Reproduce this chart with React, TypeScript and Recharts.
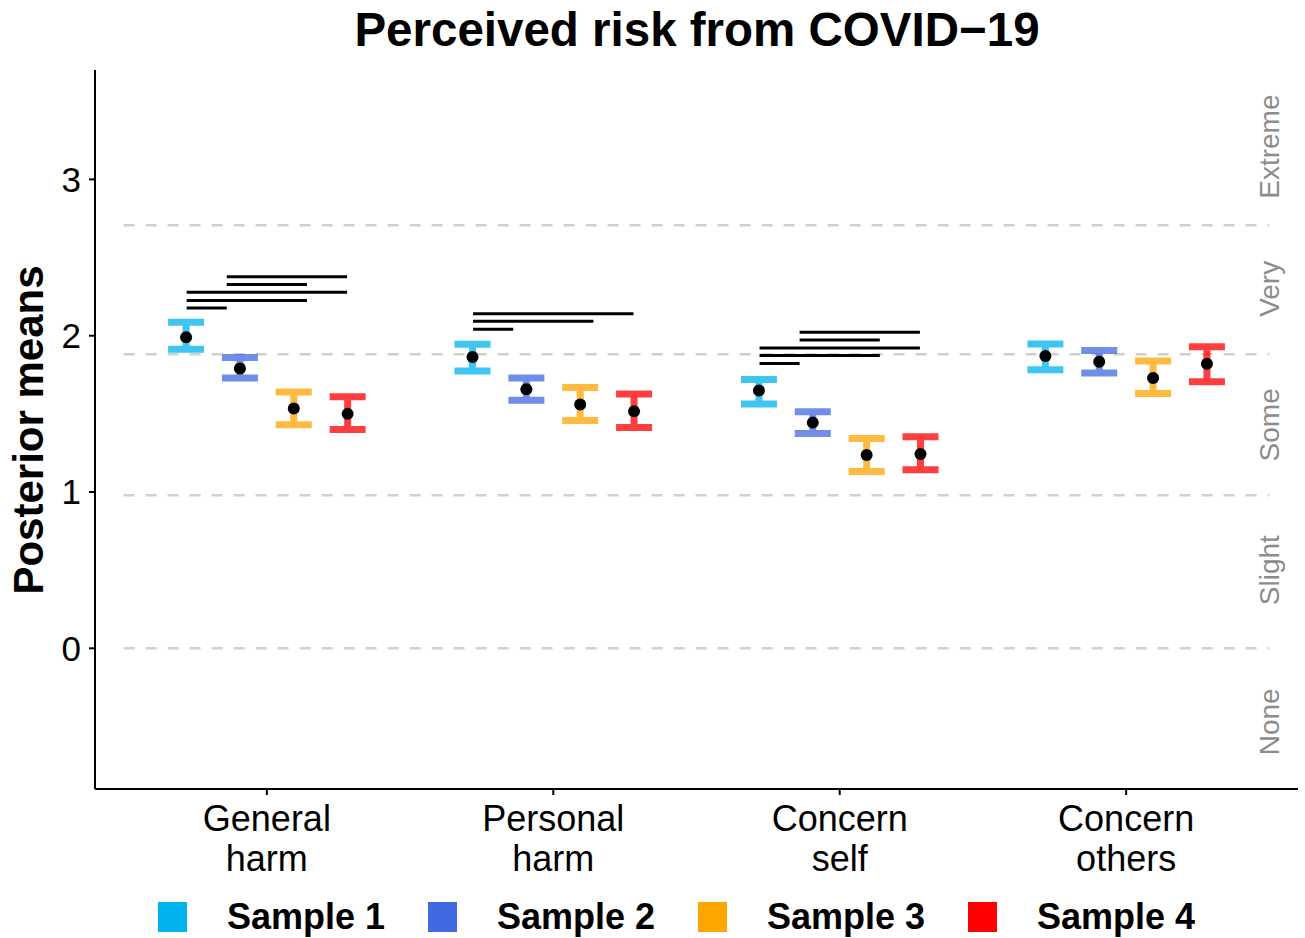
import React from 'react';
import {
  ComposedChart,
  Scatter,
  XAxis,
  YAxis,
  ErrorBar,
  ReferenceLine,
  Legend,
  Customized,
} from 'recharts';

const W = 1305;
const H = 938;
const FONT = '"Liberation Sans", Arial, Helvetica, sans-serif';

// ---- data ----
const categories = ['General harm', 'Personal harm', 'Concern self', 'Concern others'];
const categoryLines = [
  ['General', 'harm'],
  ['Personal', 'harm'],
  ['Concern', 'self'],
  ['Concern', 'others'],
];
const sampleNames = ['Sample 1', 'Sample 2', 'Sample 3', 'Sample 4'];
const sampleColors = ['#00B2EE', '#4169E1', '#FFA500', '#FF0000'];
const dodge = [-0.282, -0.094, 0.094, 0.282];

const s1Mean = [1.99, 1.864, 1.65, 1.87];
const s1Lo = [1.913, 1.774, 1.563, 1.783];
const s1Hi = [2.086, 1.945, 1.72, 1.947];
const s2Mean = [1.79, 1.657, 1.444, 1.834];
const s2Lo = [1.73, 1.587, 1.374, 1.761];
const s2Hi = [1.86, 1.73, 1.514, 1.905];
const s3Mean = [1.535, 1.56, 1.237, 1.729];
const s3Lo = [1.43, 1.457, 1.132, 1.63];
const s3Hi = [1.64, 1.668, 1.342, 1.838];
const s4Mean = [1.5, 1.516, 1.243, 1.821];
const s4Lo = [1.4, 1.412, 1.143, 1.706];
const s4Hi = [1.61, 1.627, 1.354, 1.93];

// significance segments: category index, start offset, end offset, height
const compCat = [1, 1, 1, 1, 1, 2, 2, 2, 3, 3, 3, 3, 3];
const compFrom = [-0.14, -0.14, -0.28, -0.28, -0.28, -0.28, -0.28, -0.28, -0.14, -0.14, -0.28, -0.28, -0.28];
const compTo = [0.28, 0.14, 0.28, 0.14, -0.14, 0.28, 0.14, -0.14, 0.28, 0.14, 0.28, 0.14, -0.14];
const compY = [2.378, 2.327, 2.278, 2.226, 2.177, 2.141, 2.092, 2.041, 2.022, 1.972, 1.921, 1.873, 1.823];

// response-scale thresholds and band labels
const thresholds = [0, 0.979, 1.881, 2.706];
const bandNames = ['None', 'Slight', 'Some', 'Very', 'Extreme'];
const bandCenters = [-0.47, 0.5, 1.43, 2.3, 3.21];

const yTicks = [0, 1, 2, 3];
const xTicks = [1, 2, 3, 4];

const buildSeries = (m: number[], lo: number[], hi: number[], k: number) =>
  m.map((v, i) => ({ x: i + 1 + dodge[k], y: v, err: [v - lo[i], hi[i] - v], cat: categories[i] }));

const series = [
  buildSeries(s1Mean, s1Lo, s1Hi, 0),
  buildSeries(s2Mean, s2Lo, s2Hi, 1),
  buildSeries(s3Mean, s3Lo, s3Hi, 2),
  buildSeries(s4Mean, s4Lo, s4Hi, 3),
];

const bandData = bandNames.map((n, i) => ({ x: 4.5, y: bandCenters[i], name: n }));

const Dot = (props: any) => <circle cx={props.cx} cy={props.cy} r={6} fill="#000" />;

const BandLabel = (props: any) => {
  const { cx, cy, payload } = props;
  return (
    <text
      x={cx}
      y={cy}
      transform={`rotate(-90 ${cx} ${cy})`}
      textAnchor="middle"
      dominantBaseline="central"
      fontFamily={FONT}
      fontSize={28}
      fill="#8C8C8C"
    >
      {payload.name}
    </text>
  );
};

const XTick = (props: any) => {
  const { x, y, payload } = props;
  const lines = categoryLines[xTicks.indexOf(payload.value)] || [];
  return (
    <g>
      {lines.map((l, i) => (
        <text key={i} x={x} y={y + 34 + i * 40} textAnchor="middle" fontFamily={FONT} fontSize={36} fill="#000">
          {l}
        </text>
      ))}
    </g>
  );
};

const YLabel = () => (
  <text
    x={28}
    y={430}
    transform="rotate(-90 28 430)"
    textAnchor="middle"
    dominantBaseline="central"
    fontFamily={FONT}
    fontWeight="bold"
    fontSize={42}
    fill="#000"
  >
    Posterior means
  </text>
);

const Title = () => (
  <text x={697} y={46} textAnchor="middle" fontFamily={FONT} fontWeight="bold" fontSize={47.5} fill="#000">
    Perceived risk from COVID−19
  </text>
);

const LegendContent = () => (
  <div style={{ position: 'relative', width: W, height: 50, fontFamily: FONT }}>
    {sampleNames.map((n, i) => (
      <div
        key={n}
        style={{ position: 'absolute', left: 158 + i * 270, top: 20, display: 'flex', alignItems: 'center', height: 36 }}
      >
        <div style={{ width: 29, height: 30, background: sampleColors[i] }} />
        <span style={{ marginLeft: 40, fontSize: 36, fontWeight: 'bold', color: '#000' }}>{n}</span>
      </div>
    ))}
  </div>
);

export default function App() {
  return (
    <div style={{ position: 'absolute', left: 0, top: 0, width: W, height: H, background: '#fff' }}>
      <ComposedChart width={W} height={H} margin={{ top: 70, right: 7, left: 0, bottom: 9 }}>
        <XAxis
          type="number"
          dataKey="x"
          domain={[0.4, 4.6]}
          ticks={xTicks}
          allowDataOverflow
          tick={<XTick />}
          tickSize={6}
          height={90}
          stroke="#000"
          axisLine={{ stroke: '#000', strokeWidth: 2 }}
          tickLine={{ stroke: '#000', strokeWidth: 2 }}
        />
        <YAxis
          type="number"
          dataKey="y"
          domain={[-0.9, 3.7]}
          ticks={yTicks}
          allowDataOverflow
          width={95}
          tickSize={6}
          tickMargin={8}
          tick={{ fontFamily: FONT, fontSize: 35, fill: '#000' }}
          axisLine={{ stroke: '#000', strokeWidth: 2 }}
          tickLine={{ stroke: '#000', strokeWidth: 2 }}
        />
        {thresholds.map((t) => (
          <ReferenceLine
            key={`t${t}`}
            segment={[{ x: 0.5, y: t }, { x: 4.5, y: t }]}
            stroke="#D0D0D0"
            strokeWidth={2.5}
            strokeDasharray="11 11"
          />
        ))}
        {compY.map((y, i) => (
          <ReferenceLine
            key={`c${i}`}
            segment={[
              { x: compCat[i] + compFrom[i], y },
              { x: compCat[i] + compTo[i], y },
            ]}
            stroke="#000"
            strokeWidth={3}
          />
        ))}
        <Scatter data={bandData} shape={<BandLabel />} isAnimationActive={false} legendType="none" />
        {series.map((d, k) => (
          <Scatter key={sampleNames[k]} name={sampleNames[k]} data={d} shape={<Dot />} fill={sampleColors[k]} isAnimationActive={false}>
            <ErrorBar
              dataKey="err"
              direction="y"
              width={18}
              strokeWidth={7}
              stroke={sampleColors[k]}
              opacity={0.75}
              isAnimationActive={false}
            />
          </Scatter>
        ))}
        <Legend verticalAlign="bottom" content={<LegendContent />} wrapperStyle={{ height: 50 }} />
        <Customized component={<Title />} />
        <Customized component={<YLabel />} />
      </ComposedChart>
    </div>
  );
}
